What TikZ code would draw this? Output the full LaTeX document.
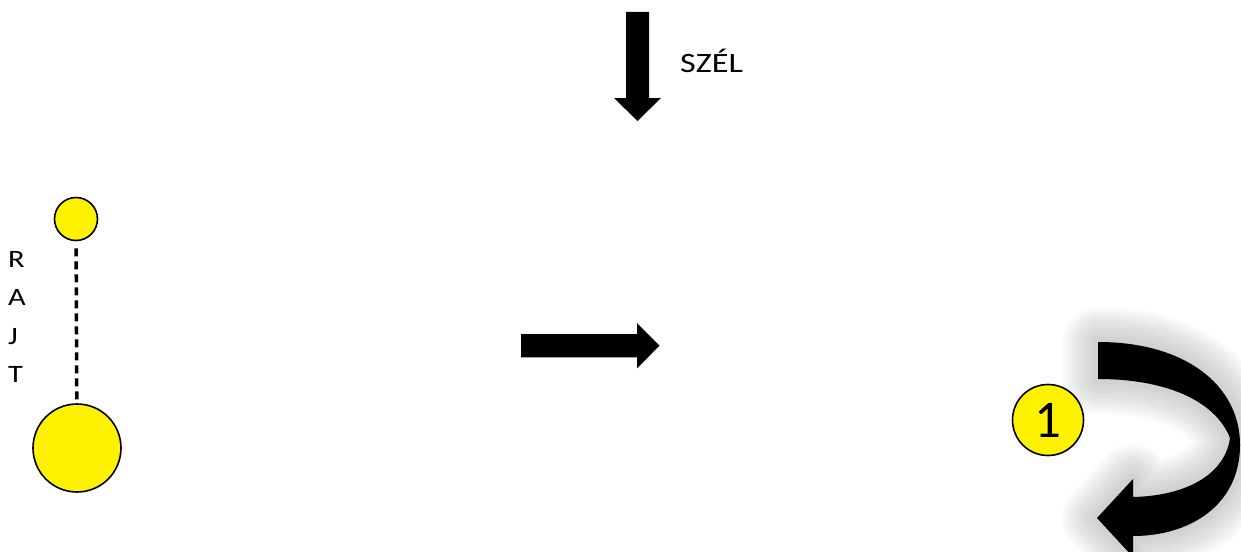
\documentclass[tikz,border=0pt]{standalone}
\usepackage{fontspec}
\setmainfont{Carlito}
\newfontfamily\widefont[FakeStretch=1.22]{Carlito}
\usetikzlibrary{positioning}
\tikzset{
  ball/.style={circle, draw=black, fill=yellow, line width=1.6pt, inner sep=0pt},
  blockarrow/.style={fill=black},
  letter/.style={anchor=base west, inner sep=0pt, font=\widefont\fontsize{25}{30}\selectfont}
}
\def\turnarrow{(1098,342) .. controls (1185,342) and (1240,385) .. (1240,445)
  .. controls (1240,505) and (1190,536) .. (1133,536) -- (1133,557) -- (1097,518)
  -- (1133,479) -- (1133,497) .. controls (1185,496) and (1225,475) .. (1230,438)
  .. controls (1215,400) and (1165,379) .. (1098,379) -- cycle}
\begin{document}
\begin{tikzpicture}[x=1pt,y=-1pt]
  \useasboundingbox (0,0) rectangle (1241,551);

  % wind
  \fill [blockarrow] (626,12) -- (649,12) -- (649,98) -- (661,98) -- (637.5,121)
    -- (614,98) -- (626,98) -- cycle;
  \node [letter, font=\widefont\fontsize{28}{32}\selectfont] (szel) at (680,72) {SZÉL};

  % start line
  \node [ball, minimum size=43pt] (top) at (76,219) {};
  \node [ball, minimum size=88pt] (bottom) at (77,448) {};
  \draw [black, line width=3.5pt, dash pattern=on 8pt off 5pt, shorten <=7pt] (top) -- (bottom);
  \foreach \l [count=\i] in {R,A,J,T}
    \node [letter] (rajt\i) at (8,267+38.5*\i-38.5) {\l};

  % course
  \fill [blockarrow] (521,334) -- (637,334) -- (637,323) -- (659.5,345.7) -- (637,368.3)
    -- (637,357.3) -- (521,357.3) -- cycle;

  % mark 1
  \foreach \w in {70,64,...,6}
    \draw [black!40, fill=black!40, opacity=0.05, line width=\w pt, line join=round] \turnarrow;
  \fill [blockarrow] \turnarrow;
  \node [ball, minimum size=71pt, font=\fontsize{53}{60}\selectfont] (mark1) at (1048,420) {1};
\end{tikzpicture}
\end{document}
